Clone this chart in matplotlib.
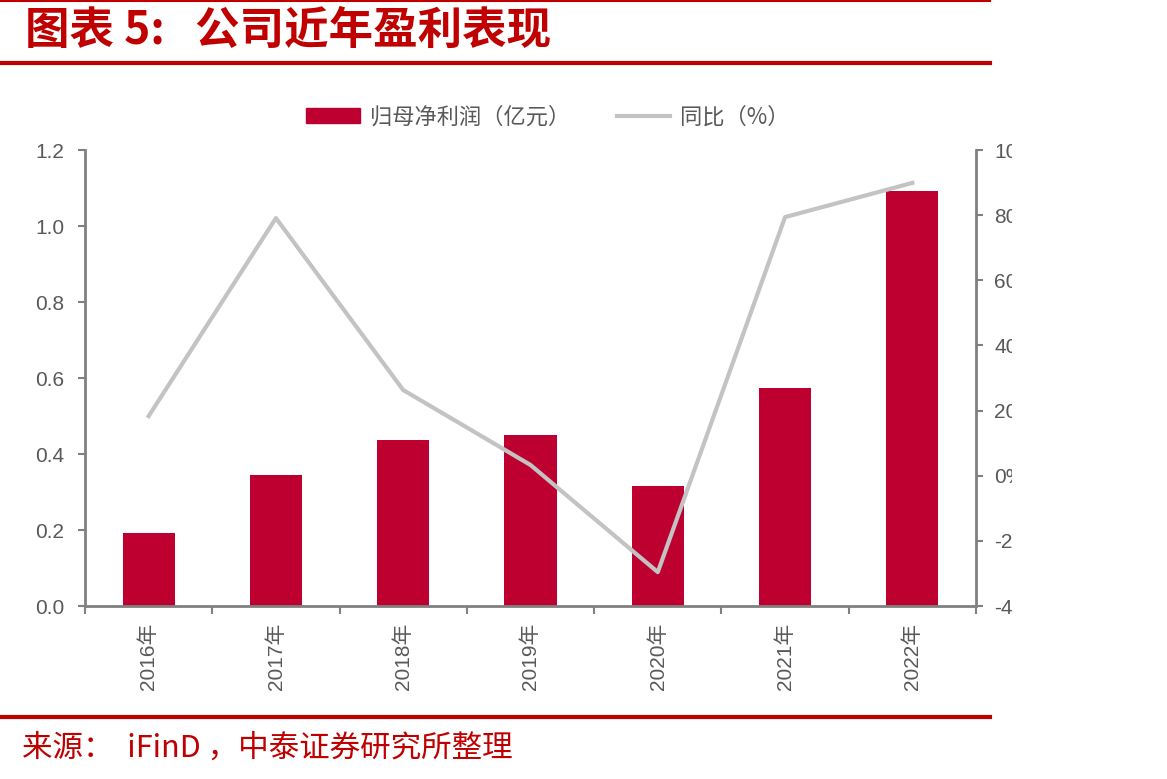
import matplotlib.pyplot as plt
import numpy as np
from matplotlib.patches import Rectangle
from matplotlib.lines import Line2D

plt.rcParams['font.family'] = ['Liberation Sans', 'Noto Sans CJK SC']

# 数据
years = ['2016年', '2017年', '2018年', '2019年', '2020年', '2021年', '2022年']
profit = [0.192, 0.345, 0.437, 0.450, 0.316, 0.574, 1.092]   # 归母净利润（亿元）
yoy = [18.3, 79.1, 26.3, 3.3, -29.6, 79.4, 89.9]             # 同比（%）
left_ticks = [0.0, 0.2, 0.4, 0.6, 0.8, 1.0, 1.2]
right_ticks = [-40, -20, 0, 20, 40, 60, 80, 100]

red = '#BE0030'
gray_axis = '#808080'
gray_text = '#595959'
title_red = '#C00000'
cjk = ['Noto Sans CJK SC', 'DejaVu Sans']

W, H = 1167, 779
fig = plt.figure(figsize=(W / 100, H / 100), dpi=100)

# 坐标区：左 85px，右 976px，上 150px，下 606px
ax = fig.add_axes([85 / W, 1 - 606 / H, (976 - 85) / W, (606 - 150) / H])
x = np.arange(len(years))
ax.bar(x, profit, width=0.41, color=red, zorder=2)
ax.set_xlim(-0.5, len(years) - 0.5)
ax.set_ylim(0, 1.2)
ax.set_yticks(left_ticks)
ax.set_yticklabels([f'{v:.1f}' for v in left_ticks])
ax.set_xticks(np.arange(len(years) + 1) - 0.5)
ax.set_xticklabels([])
ax.set_xticks(x, minor=True)
ax.set_xticklabels(years, minor=True, rotation=90)
ax.tick_params(axis='x', which='major', direction='out', length=6, width=1.5, color=gray_axis)
ax.tick_params(axis='x', which='minor', length=0, pad=12, labelsize=15, labelcolor=gray_text)
ax.tick_params(axis='y', direction='out', length=5, width=1.5, color=gray_axis,
               labelsize=15, labelcolor=gray_text, pad=10)
for s in ['top', 'right']:
    ax.spines[s].set_visible(False)
for s in ['left', 'bottom']:
    ax.spines[s].set_color(gray_axis)
    ax.spines[s].set_linewidth(2)

ax2 = ax.twinx()
ax2.plot(x, yoy, color='#C3C3C3', linewidth=3, zorder=3)
ax2.set_ylim(-40, 100)
ax2.set_yticks(right_ticks)
ax2.set_yticklabels([f'{v}%' for v in right_ticks])
ax2.tick_params(axis='y', direction='out', length=5, width=1.5, color=gray_axis,
                labelsize=15, labelcolor=gray_text, pad=8)
for s in ['top', 'left', 'bottom']:
    ax2.spines[s].set_visible(False)
ax2.spines['right'].set_color(gray_axis)
ax2.spines['right'].set_linewidth(2)

# 图例
handles = [Rectangle((0, 0), 1, 1, color=red),
           Line2D([0], [0], color='#C3C3C3', linewidth=3)]
fig.legend(handles, ['归母净利润（亿元）', '同比（%）'], loc='center',
           bbox_to_anchor=(548 / W, 1 - 117 / H), ncol=2, frameon=False,
           prop={'family': cjk, 'size': 16}, labelcolor=gray_text,
           handlelength=2.4, handleheight=0.65, columnspacing=2.1, handletextpad=0.45)

# 右侧裁切（原图右侧标签被截断）
fig.add_artist(Rectangle((1012 / W, 0), 1, 1, transform=fig.transFigure,
                         facecolor='white', edgecolor='none', zorder=10))

# 标题与红线
fig.text(25 / W, 1 - 31 / H, '图表 5:   公司近年盈利表现', fontsize=32, fontweight='bold',
         color=title_red, va='center', ha='left', family=cjk)
fig.add_artist(Line2D([0, 990 / W], [1 - 1 / H, 1 - 1 / H], color='#C00000', linewidth=1.5))
fig.add_artist(Line2D([0, 990 / W], [1 - 63 / H, 1 - 63 / H], color='#C00000', linewidth=3))
fig.add_artist(Line2D([0, 990 / W], [1 - 717 / H, 1 - 717 / H], color='#C00000', linewidth=3))

fig.text(22 / W, 1 - 748 / H, '来源：  iFinD ，中泰证券研究所整理', fontsize=22,
         color=title_red, va='center', ha='left', family=cjk)

fig.savefig('out.png', dpi=100, facecolor='white')
